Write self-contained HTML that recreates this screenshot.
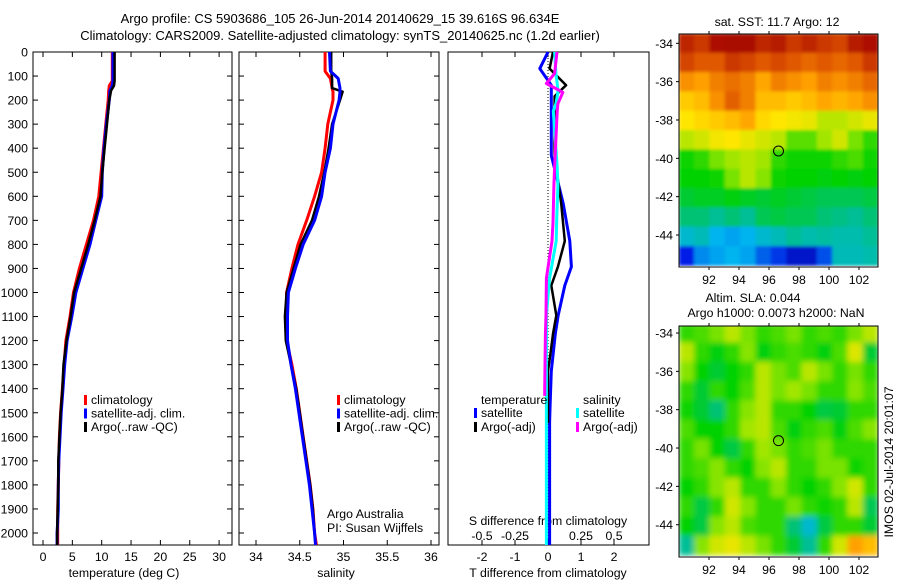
<!DOCTYPE html>
<html><head><meta charset="utf-8"><style>
html,body{margin:0;padding:0;background:#fff;}
svg{display:block;font-family:"Liberation Sans",sans-serif;}
text{font-size:12.3px;fill:#000;}
</style></head><body>
<svg id="fig" width="900" height="580" viewBox="0 0 900 580" xmlns="http://www.w3.org/2000/svg">
<defs><filter id="blur" x="0" y="0" width="1" height="1"><feGaussianBlur stdDeviation="3"/></filter>
<filter id="blur2" x="0" y="0" width="1" height="1"><feGaussianBlur stdDeviation="1.5"/></filter>
<clipPath id="c1"><rect x="679" y="34" width="199" height="233"/></clipPath>
<clipPath id="c2"><rect x="679" y="326" width="199" height="231"/></clipPath></defs>
<text x="340" y="23" text-anchor="middle" style="font-size:13px">Argo profile: CS 5903686_105 26-Jun-2014 20140629_15 39.616S 96.634E</text>
<text x="340" y="40" text-anchor="middle" style="font-size:13px">Climatology: CARS2009. Satellite-adjusted climatology: synTS_20140625.nc (1.2d earlier)</text>
<g id="g"></g>
</svg>
<script>
// ---- data ----
const depths=[0,120,140,160,200,300,400,500,600,700,800,900,1000,1100,1200,1300,1400,1500,1600,1700,1800,1900,2000,2050];
const tempClim=[11.8,11.8,11.3,11.2,11.1,10.7,10.3,9.9,9.5,8.6,7.4,6.2,5.2,4.6,3.9,3.6,3.3,3.0,2.8,2.7,2.6,2.5,2.5,2.5];
const tempSat=[11.9,11.9,11.8,11.4,11.3,10.8,10.4,10.1,10.0,9.0,8.0,6.8,5.6,4.9,4.1,3.7,3.4,3.1,2.9,2.7,2.6,2.6,2.4,2.4];
const tempArgo=[12.2,12.2,12.1,11.6,11.3,10.9,10.5,10.1,9.8,8.8,7.7,6.5,5.3,4.7,4.0,3.5,3.3,3.0,2.8,2.6,2.6,2.5,2.4,2.4];
const salDepths=[0,80,110,150,165,200,300,400,500,600,700,800,900,1000,1100,1200,1300,1400,1500,1600,1700,1800,1900,2000,2050];
const salClim=[34.79,34.79,34.85,34.87,34.88,34.88,34.82,34.79,34.75,34.67,34.58,34.48,34.41,34.35,34.35,34.35,34.41,34.46,34.50,34.54,34.58,34.62,34.65,34.67,34.69];
const salSat=[34.84,34.85,34.94,34.96,34.96,34.95,34.88,34.85,34.79,34.75,34.67,34.54,34.45,34.37,34.36,34.36,34.40,34.45,34.49,34.53,34.57,34.61,34.64,34.67,34.68];
const salArgo=[34.86,34.86,34.87,34.87,34.99,34.96,34.87,34.83,34.78,34.72,34.64,34.51,34.43,34.35,34.33,34.34,34.40,34.46,34.50,34.54,34.58,34.62,34.65,34.67,34.68];
const dTdepth=[0,69,138,184,430,630,786,893,971,1095,1172,1250,1327,1482,1543,2050];
const dTsat=[0.0,-0.25,0.1,0.1,0.1,0.46,0.66,0.71,0.51,0.31,0.22,0.16,0.1,0.06,0.05,0.05];
const dTargo=[0.15,0.05,0.55,0.2,0.2,0.4,0.51,0.3,0.1,0.25,0.15,0.08,0.0,0.0,0.0,null];
const dSdepth=[0,90,131,158,168,215,246,478,554,710,786,940,1095,1172,1404,1430,2050];
const dSsat=[0.05,0.06,0.07,0.075,0.075,0.06,0.04,0.07,0.075,0.065,0.062,0.012,-0.012,-0.012,-0.012,-0.012,-0.012];
const dSargo=[0.068,0.05,-0.012,0.08,0.112,0.075,0.07,0.05,0.045,0.038,0.03,-0.012,-0.015,-0.02,-0.025,-0.025,null];
const sstGrid=[
[.93,.9,.97,.98,.98,.93,.95,.9,.93,.9,.88,.95,.97],
[.88,.85,.85,.9,.88,.85,.87,.85,.83,.85,.83,.85,.9],
[.78,.76,.8,.82,.8,.75,.8,.78,.76,.8,.78,.8,.83],
[.7,.72,.78,.84,.8,.72,.72,.7,.72,.75,.73,.75,.78],
[.66,.68,.7,.72,.75,.68,.66,.65,.64,.6,.6,.62,.64],
[.6,.62,.65,.66,.64,.62,.6,.53,.53,.58,.62,.55,.5],
[.48,.5,.55,.58,.6,.58,.5,.48,.48,.48,.5,.52,.48],
[.47,.47,.48,.55,.6,.56,.48,.47,.47,.46,.47,.46,.47],
[.44,.45,.45,.46,.45,.44,.45,.44,.43,.42,.42,.42,.43],
[.4,.4,.38,.4,.38,.42,.43,.42,.42,.4,.39,.38,.4],
[.33,.35,.3,.28,.3,.33,.35,.38,.36,.37,.36,.36,.38],
[.12,.25,.28,.3,.28,.2,.15,.08,.08,.18,.35,.35,.36]];
const slaGrid=[
[.5,.52,.55,.6,.55,.5,.52,.55,.5,.52,.5,.55,.6],
[.6,.5,.46,.5,.56,.46,.5,.52,.5,.46,.52,.63,.44],
[.56,.47,.44,.47,.5,.6,.55,.52,.6,.55,.5,.55,.5],
[.5,.44,.5,.47,.52,.6,.55,.58,.55,.5,.5,.56,.52],
[.48,.44,.4,.5,.56,.6,.5,.5,.47,.43,.44,.5,.5],
[.52,.47,.47,.5,.58,.6,.52,.46,.5,.52,.46,.52,.56],
[.5,.55,.47,.43,.5,.58,.55,.5,.52,.55,.5,.5,.5],
[.5,.52,.56,.5,.47,.56,.6,.5,.5,.55,.55,.48,.5],
[.47,.5,.56,.6,.5,.5,.56,.5,.47,.5,.56,.62,.5],
[.5,.43,.5,.62,.56,.5,.5,.55,.5,.48,.5,.6,.42],
[.47,.43,.56,.6,.52,.5,.5,.4,.33,.43,.5,.5,.44],
[.38,.56,.62,.64,.6,.55,.5,.44,.38,.5,.62,.76,.72]];
const depthTicks=[0,100,200,300,400,500,600,700,800,900,1000,1100,1200,1300,1400,1500,1600,1700,1800,1900,2000];
const tempTicks=[0,5,10,15,20,25,30];
const salTicks=[34,34.5,35,35.5,36];
const salTickLabels=["34","34.5","35","35.5","36"];
const dTTicks=[-2,-1,0,1,2];
const dSTicks=[-0.5,-0.25,0,0.25,0.5];
const dSTickLabels=["-0.5","-0.25","0","0.25","0.5"];
const lonTicks=[92,94,96,98,100,102];
const latTicks=[-34,-36,-38,-40,-42,-44];
const argoLon=96.634, argoLat=-39.616;

// ---- scales ----
const NS="http://www.w3.org/2000/svg";
const g=document.getElementById('g');
function el(tag,attrs,parent){const e=document.createElementNS(NS,tag);for(const k in attrs)e.setAttribute(k,attrs[k]);(parent||g).appendChild(e);return e;}
const yD=d=>52+d*0.2405;
const xT=v=>43+v*5.87;
const xS=v=>256+(v-34)*87.5;
const xdT=v=>548+v*33;
const xdS=v=>548+v*132;
const mx=lon=>709+(lon-92)*15;
const myA=lat=>43.3+(-34-lat)*19.17;
const myB=lat=>333+(-34-lat)*19.17;

function jet(v){
 const stops=[[0,[0,0,140]],[0.12,[0,30,230]],[0.3,[0,180,240]],[0.38,[0,190,150]],[0.47,[0,210,0]],[0.57,[150,230,0]],[0.66,[255,230,0]],[0.76,[255,160,0]],[0.86,[220,80,0]],[1,[160,0,0]]];
 for(let i=1;i<stops.length;i++){if(v<=stops[i][0]){const a=stops[i-1],b=stops[i];const t=(v-a[0])/(b[0]-a[0]);return 'rgb('+a[1].map((c,j)=>Math.round(c+(b[1][j]-c)*t)).join(',')+')';}}
 return 'rgb(160,0,0)';
}
function frame(x0,x1,name){
 const r=el('rect',{x:x0,y:52,width:x1-x0,height:493,fill:'none',stroke:'#000','stroke-width':1});
 
 
}
function line(xs,ys,xf,stroke,name,w){
 let d='',pen=false;
 for(let i=0;i<xs.length;i++){if(xs[i]===null){pen=false;continue;}d+=(pen?'L':'M')+xf(xs[i]).toFixed(1)+','+yD(ys[i]).toFixed(1);pen=true;}
 const p=el('path',{d:d,fill:'none',stroke:stroke,'stroke-width':w||3,'stroke-linejoin':'round'});
 
 
}
function txt(x,y,s,name,anchor,size){
 const t=el('text',{x:x,y:y,'text-anchor':anchor||'start'});if(size)t.style.fontSize=size+'px';t.textContent=s;
 
 
 return t;
}
function ytick(x0,x1,y,len){el('line',{x1:x0,y1:y,x2:x0+len,y2:y,stroke:'#000'});el('line',{x1:x1,y1:y,x2:x1-len,y2:y,stroke:'#000'});}
function xtick(x,len,y0,y1){el('line',{x1:x,y1:y1,x2:x,y2:y1-len,stroke:'#000'});el('line',{x1:x,y1:y0,x2:x,y2:y0+len,stroke:'#000'});}

// panel 1
frame(33,232,'temperature-panel');
depthTicks.forEach(d=>{ytick(33,232,yD(d),5);txt(28,yD(d)+4.5,String(d),'depth-tick-label','end');});
tempTicks.forEach(v=>{xtick(xT(v),5,52,545);txt(xT(v),561,String(v),'temp-tick-label','middle');});
txt(124,577,'temperature (deg C)','x-axis-title-temperature','middle');
line(tempClim,depths,xT,'#f00','temp-climatology-line');
line(tempSat,depths,xT,'#00f','temp-satellite-line');
line(tempArgo,depths,xT,'#000','temp-argo-line',2.5);
// panel 2
frame(239,439,'salinity-panel');
depthTicks.forEach(d=>ytick(239,439,yD(d),5));
salTicks.forEach((v,i)=>{xtick(xS(v),5,52,545);txt(xS(v),561,salTickLabels[i],'sal-tick-label','middle');});
txt(336,577,'salinity','x-axis-title-salinity','middle');
line(salClim,salDepths,xS,'#f00','sal-climatology-line');
line(salArgo,salDepths,xS,'#000','sal-argo-line',2.5);
line(salSat,salDepths,xS,'#00f','sal-satellite-line');
// legends
function legend(x,y,c,s,name){el('rect',{x:x,y:y-9,width:3,height:10,fill:c});txt(x+7,y,s,name);}
[[84,'#f00','climatology'],[84,'#00f','satellite-adj. clim.'],[84,'#000','Argo(..raw -QC)']].forEach((r,i)=>legend(r[0],404+i*13.5,r[1],r[2],'legend-entry'));
[[337,'#f00','climatology'],[337,'#00f','satellite-adj. clim.'],[337,'#000','Argo(..raw -QC)']].forEach((r,i)=>legend(r[0],404+i*13.5,r[1],r[2],'legend-entry'));
txt(327,518,'Argo Australia','credit-text');
txt(327,532,'PI: Susan Wijffels','credit-pi-text');
// panel 3
frame(448,649,'difference-panel');
el('line',{x1:548,y1:52,x2:548,y2:545,stroke:'#000','stroke-dasharray':'1,2'});
dTTicks.forEach(v=>{xtick(xdT(v),5,52,545);txt(xdT(v),561,String(v),'dt-tick-label','middle');});
dSTicks.forEach((v,i)=>txt(xdS(v),540,dSTickLabels[i],'ds-tick-label','middle'));
txt(548,525,'S difference from climatology','s-diff-axis-title','middle');
txt(548,577,'T difference from climatology','t-diff-axis-title','middle');
line(dTsat,dTdepth,xdT,'#00f','dt-satellite-line');
line(dTargo,dTdepth,xdT,'#000','dt-argo-line',2.5);
line(dSsat,dSdepth,xdS,'#0ff','ds-satellite-line');
line(dSargo,dSdepth,xdS,'#f0f','ds-argo-line');
txt(481,404,'temperature','legend-temperature-header');
txt(583,404,'salinity','legend-salinity-header');
legend(474,417,'#00f','satellite','legend-entry');
legend(474,431,'#000','Argo(-adj)','legend-entry');
legend(576,417,'#0ff','satellite','legend-entry');
legend(576,431,'#f0f','Argo(-adj)','legend-entry');
// maps
function map(grid,yf,top,bot,clip,filt,name){
 const gg=el('g',{'clip-path':'url(#'+clip+')'});
 
 
 const inner=el('g',{filter:'url(#'+filt+')'},gg);
 const rows=grid.length, cols=grid[0].length;
 for(let r=0;r<rows;r++)for(let c=0;c<cols;c++){
  const lon0=90+c*(13.3/cols), lat0=-33.5-r*(12.1/rows);
  const x=mx(lon0), y=yf(lat0), w=mx(lon0+13.3/cols)-x, h=yf(lat0-12.1/rows)-y;
  const cell=el('rect',{x:x-0.3,y:y-0.3,width:w+0.6,height:h+0.6,fill:jet(grid[r][c])},inner);
  
  
 }
 el('rect',{x:679,y:top,width:199,height:bot-top,fill:'none',stroke:'#000'});
 lonTicks.forEach(v=>{el('line',{x1:mx(v),y1:top,x2:mx(v),y2:top-3,stroke:'#000'});el('line',{x1:mx(v),y1:bot,x2:mx(v),y2:bot+3,stroke:'#000'});txt(mx(v),bot+17,String(v),'lon-tick-label','middle');});
 latTicks.forEach(v=>{el('line',{x1:679,y1:yf(v),x2:676,y2:yf(v),stroke:'#000'});txt(673,yf(v)+4.5,String(v),'lat-tick-label','end');});
 const c=el('circle',{cx:mx(argoLon),cy:yf(argoLat),r:5,fill:'none',stroke:'#000','stroke-width':1});
 
 
}
map(sstGrid,myA,34,267,'c1','blur2','sst-map');
map(slaGrid,myB,326,557,'c2','blur','sla-map');
txt(777,26,'sat. SST: 11.7 Argo: 12','sst-map-title','middle');
txt(753,302,'Altim. SLA: 0.044','sla-map-title','middle');
txt(776,317,'Argo h1000: 0.0073 h2000: NaN','sla-map-subtitle','middle');
const ts=txt(0,0,'IMOS 02-Jul-2014 20:01:07','timestamp-text','middle');
ts.setAttribute('transform','translate(893,462) rotate(-90)');
</script>
</body></html>
